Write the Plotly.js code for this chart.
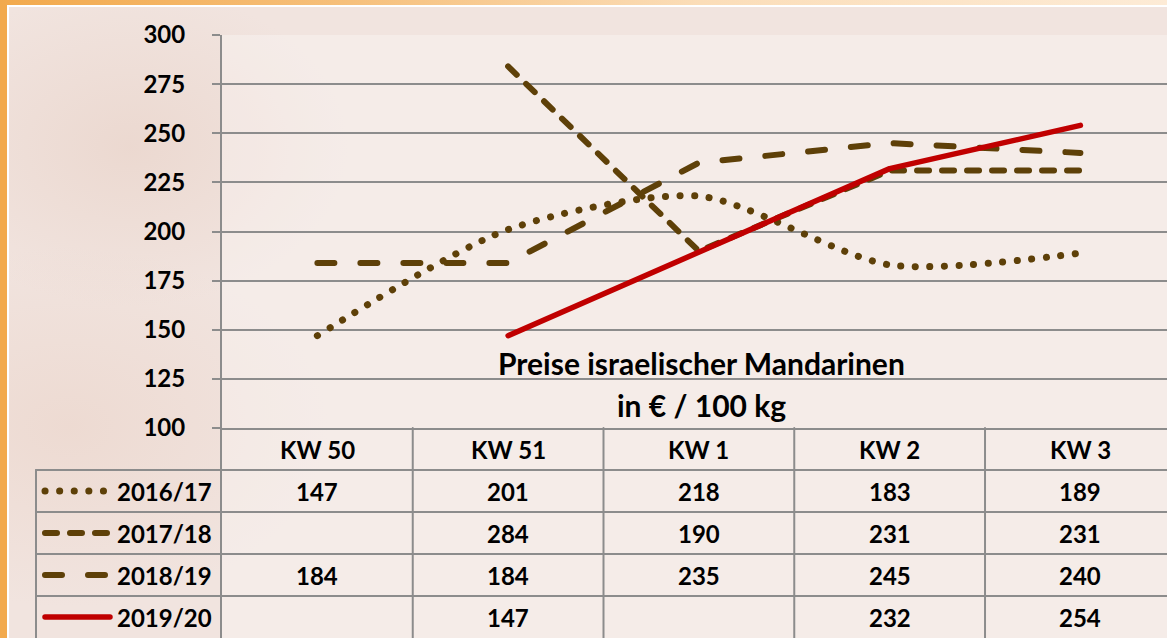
<!DOCTYPE html>
<html>
<head>
<meta charset="utf-8">
<script src="https://cdn.plot.ly/plotly-3.0.1.min.js"></script>
<style>
  html, body { margin:0; padding:0; width:1167px; height:638px; overflow:hidden; background:#ffffff; }
  #frameLeft { position:absolute; left:0; top:0; width:7px; height:638px; background:#F2A94C; }
  #frameTop { position:absolute; left:0; top:0; width:1167px; height:5px;
    background:linear-gradient(to right, #F2A94C 0%, #F6C07C 30%, #FBDDB8 60%, #FDEBD6 100%); }
  #bg { position:absolute; left:9px; top:7px; right:0; bottom:0;
    background:
      radial-gradient(ellipse 220px 160px at 120px 140px, rgba(225,195,180,0.35), rgba(0,0,0,0)),
      radial-gradient(ellipse 260px 180px at 60px 420px, rgba(230,200,185,0.35), rgba(0,0,0,0)),
      #F1E4DF; }
  #chart { position:absolute; left:0; top:0; width:1167px; height:638px; }
  .scatterlayer .js-line { stroke-linecap: round; stroke-linejoin: round; }
  .shapelayer path { stroke-linecap: round; }
</style>
</head>
<body>
<div id="frameLeft"></div>
<div id="frameTop"></div>
<div id="bg"></div>
<div id="chart"></div>
<script>
// ---- data ----
const categories = ['KW 50', 'KW 51', 'KW 1', 'KW 2', 'KW 3'];
const seriesNames = ['2016/17', '2017/18', '2018/19', '2019/20'];
const values2016 = [147, 201, 218, 183, 189];
const values2017 = [null, 284, 190, 231, 231];
const values2018 = [184, 184, 235, 245, 240];
const values2019 = [null, 147, null, 232, 254];
const yTicks = [100, 125, 150, 175, 200, 225, 250, 275, 300];
const titleLines = ['Preise israelischer Mandarinen', 'in € / 100 kg'];

// ---- styles ----
const brown = '#5E4008';
const red = '#C00000';
const grid = '#8C8C8C';
const FONT = 'Lato, "Open Sans", sans-serif';
const styles = [
  {color: brown, width: 7, dash: '0.1px,14.5px', shape: 'spline'},
  {color: brown, width: 6, dash: '12px,13px', shape: 'linear'},
  {color: brown, width: 6, dash: '17px,26px', shape: 'linear'},
  {color: red, width: 5.5, dash: 'solid', shape: 'linear'}
];
const allValues = [values2016, values2017, values2018, values2019];

const W = 1167, H = 638;
const plotLeft = 222, plotTop = 35, axisBottom = 428;
const tableH = H - axisBottom;          // 210
const innerH = H - plotTop;             // 603
const splitY = tableH / innerH;         // domain split
const nRows = 5;

const traces = allValues.map((vals, i) => ({
  type: 'scatter', mode: 'lines', name: seriesNames[i],
  x: categories, y: vals, connectgaps: true,
  line: {color: styles[i].color, width: styles[i].width, dash: styles[i].dash,
         shape: styles[i].shape, smoothing: 0.75},
  hoverinfo: 'skip', showlegend: false
}));

const shapes = [];
const annotations = [];
const px = v => v / W;
const tf = {family: FONT, size: 24, weight: 700, color: '#000'};

// table horizontal lines (below header row)
for (let r = 1; r < nRows; r++) {
  shapes.push({type: 'line', xref: 'paper', yref: 'y2', x0: px(36), x1: 1, y0: r, y1: r,
    line: {color: grid, width: 2}, layer: 'below'});
}
// legend column left border
shapes.push({type: 'line', xref: 'paper', yref: 'y2', x0: px(36), x1: px(36), y0: 1, y1: nRows,
  line: {color: grid, width: 2}, layer: 'below'});
// category boundaries
for (let c = 0; c < categories.length; c++) {
  shapes.push({type: 'line', xref: 'x', yref: 'paper', x0: c + 0.5, x1: c + 0.5, y0: 0, y1: splitY,
    line: {color: grid, width: 2}, layer: 'below'});
}
// header labels
categories.forEach((c, i) => {
  annotations.push({xref: 'x', yref: 'y2', x: i, y: 0.5, text: c, showarrow: false, font: tf});
});
// data rows
allValues.forEach((vals, s) => {
  const row = s + 1.5;
  vals.forEach((v, i) => {
    if (v === null) return;
    annotations.push({xref: 'x', yref: 'y2', x: i, y: row, text: String(v), showarrow: false, font: tf});
  });
  annotations.push({xref: 'paper', yref: 'y2', x: px(214), y: row, xanchor: 'right',
    text: seriesNames[s], showarrow: false, font: tf});
  shapes.push({type: 'line', xref: 'paper', yref: 'y2', x0: px(45), x1: px(110), y0: row, y1: row,
    line: {color: styles[s].color, width: styles[s].width, dash: styles[s].dash}, layer: 'above'});
});
// title
const titleFont = {family: FONT, size: 30, weight: 700, color: '#000'};
annotations.push({xref: 'paper', yref: 'paper', x: px(702), y: (H - 363) / innerH, text: titleLines[0],
  showarrow: false, font: titleFont});
annotations.push({xref: 'paper', yref: 'paper', x: px(702), y: (H - 405) / innerH, text: titleLines[1],
  showarrow: false, font: titleFont});

const layout = {
  width: W, height: H,
  margin: {l: 0, r: 0, t: plotTop, b: 0, pad: 0},
  paper_bgcolor: 'rgba(0,0,0,0)',
  plot_bgcolor: 'rgba(255,255,255,0.3)',
  showlegend: false,
  xaxis: {domain: [plotLeft / W, 1], anchor: 'y', range: [-0.5, 4.454], type: 'category',
    showticklabels: false, ticks: '', showgrid: false, zeroline: false,
    showline: true, linecolor: grid, linewidth: 2, fixedrange: true},
  yaxis: {domain: [splitY, 1], anchor: 'x', range: [100, 300], tickvals: yTicks,
    ticktext: yTicks.map(String), showgrid: true, gridcolor: grid, gridwidth: 2,
    zeroline: false, showline: true, linecolor: grid, linewidth: 2,
    ticks: 'outside', ticklen: 8, tickwidth: 2, tickcolor: grid, ticklabelstandoff: 22,
    tickfont: tf, fixedrange: true},
  yaxis2: {domain: [0, splitY], anchor: 'x', range: [nRows, 0], showgrid: false, zeroline: false,
    showticklabels: false, ticks: '', showline: true, linecolor: grid, linewidth: 2, fixedrange: true},
  shapes: shapes,
  annotations: annotations
};

Plotly.newPlot('chart', traces, layout, {staticPlot: true, displayModeBar: false});
</script>
</body>
</html>
